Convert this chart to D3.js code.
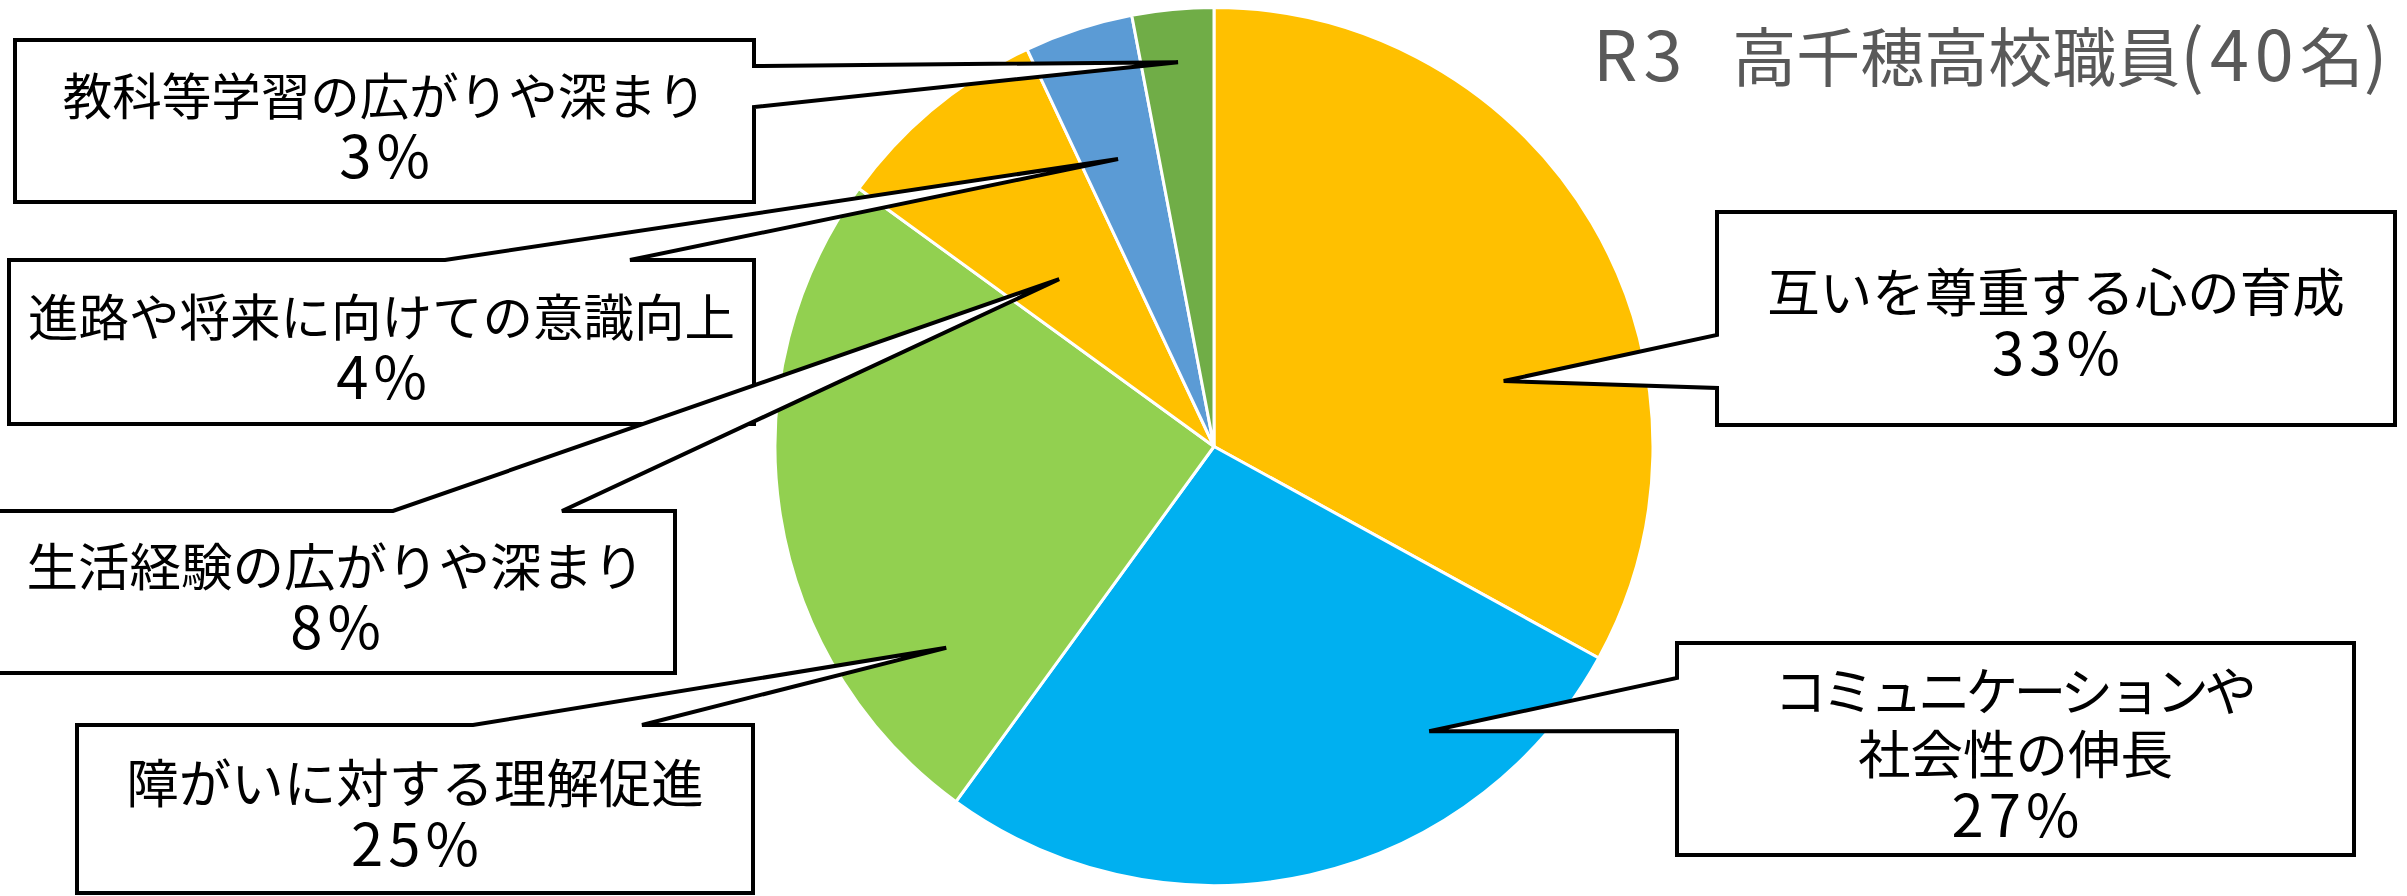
<!DOCTYPE html>
<html>
<head>
<meta charset="utf-8">
<script src="https://cdn.jsdelivr.net/npm/d3@7"></script>
<style>
  html, body { margin: 0; padding: 0; background: #ffffff; }
  svg { display: block; }
</style>
</head>
<body>
<svg id="chart" width="2407" height="896"></svg>
<script>
// ---- data ----
const categories = [
  "互いを尊重する心の育成",
  "コミュニケーションや社会性の伸長",
  "障がいに対する理解促進",
  "生活経験の広がりや深まり",
  "進路や将来に向けての意識向上",
  "教科等学習の広がりや深まり"
];
const shares = [33, 27, 25, 8, 4, 3];          // percent of staff answers
const sliceColors = ["#FFC000", "#00B0F0", "#92D050", "#FFC000", "#5B9BD5", "#70AD47"];
const labelBreaks = { "コミュニケーションや社会性の伸長": ["コミュニケーションや", "社会性の伸長"] };
const chartTitle = "R3　高千穂高校職員(40名)";

// ---- layout ----
const center = [1214, 446.5];
const radius = 439;

// callout boxes: [x0, y0, x1, y1], the side the pointer leaves from,
// the two pointer base offsets on that side, the pointer tip in pie polar
// coordinates, and the label font size used in that box
const callouts = [
  { cat: 5, box: [15, 40, 754, 202],     side: "right", base: [66, 107],  tip: { deg: 354.65, r: 386 }, size: 49.5 },
  { cat: 4, box: [9, 260, 754, 424],     side: "top",   base: [445, 630], tip: { deg: 341.54, r: 303 }, size: 50.5 },
  { cat: 3, box: [-4, 511, 675, 673],    side: "top",   base: [393, 562], tip: { deg: 317.22, r: 228 }, size: 51.5 },
  { cat: 2, box: [77, 725, 753, 893],    side: "top",   base: [473, 642], tip: { deg: 233.06, r: 335 }, size: 52.5 },
  { cat: 0, box: [1717, 212, 2395, 425], side: "left",  base: [335, 388], tip: { deg: 77.27, r: 297 },  size: 52.5 },
  { cat: 1, box: [1677, 643, 2354, 855], side: "left",  base: [678, 731], tip: { deg: 142.92, r: 357 }, size: 52.5, kanaSpacing: -4.6 }
];
const PCT_SIZE = 58, PCT_SPACING = 5, LINE_GAP = 63;

const FONT = "'Noto Sans CJK JP', 'Noto Sans', sans-serif";
const svg = d3.select("#chart");

// ---- pie ----
const pie = d3.pie().sort(null).value(d => d)(shares);
const arc = d3.arc().innerRadius(0).outerRadius(radius);

svg.append("g")
  .attr("transform", `translate(${center[0]},${center[1]})`)
  .selectAll("path")
  .data(pie)
  .join("path")
  .attr("d", arc)
  .attr("fill", (d, i) => sliceColors[i])
  .attr("stroke", "#ffffff")
  .attr("stroke-width", 3)
  .attr("stroke-linejoin", "round");

// ---- callouts ----
function calloutPoints(c) {
  const [x0, y0, x1, y1] = c.box;
  const p = d3.pointRadial(c.tip.deg * Math.PI / 180, c.tip.r);
  const tip = [center[0] + p[0], center[1] + p[1]];
  const [b0, b1] = c.base;
  if (c.side === "top") {
    return [[x0, y0], [b0, y0], tip, [b1, y0], [x1, y0], [x1, y1], [x0, y1]];
  }
  if (c.side === "right") {
    return [[x0, y0], [x1, y0], [x1, b0], tip, [x1, b1], [x1, y1], [x0, y1]];
  }
  return [[x0, y0], [x1, y0], [x1, y1], [x0, y1], [x0, b1], tip, [x0, b0]];
}

const line = d3.line().curve(d3.curveLinearClosed);

callouts.forEach(c => {
  const g = svg.append("g");
  g.append("path")
    .attr("d", line(calloutPoints(c)))
    .attr("fill", "#ffffff")
    .attr("stroke", "#000000")
    .attr("stroke-width", 4)
    .attr("stroke-linejoin", "miter")
    .attr("stroke-miterlimit", 4);

  const name = categories[c.cat];
  const parts = labelBreaks[name] || [name];
  const lines = parts.map((t, i) => ({
    t, size: c.size, ls: (i === 0 && c.kanaSpacing) ? c.kanaSpacing : 0
  }));
  lines.push({ t: shares[c.cat] + "%", size: PCT_SIZE, ls: PCT_SPACING });

  const cx = (c.box[0] + c.box[2]) / 2;
  const cy = (c.box[1] + c.box[3]) / 2;
  const n = lines.length;
  g.append("text")
    .attr("text-anchor", "middle")
    .attr("font-family", FONT)
    .attr("fill", "#000000")
    .selectAll("tspan")
    .data(lines)
    .join("tspan")
    .attr("x", d => cx + d.ls / 2)
    .attr("y", (d, i) => cy + (i - (n - 1) / 2) * LINE_GAP + 25)
    .attr("font-size", d => d.size)
    .attr("letter-spacing", d => d.ls)
    .text(d => d.t);
});

// ---- title ----
// ideographic space, CJK runs and Latin runs are sized separately
const titleRuns = chartTitle.match(/\u3000|[\u3040-\u9fff]+|[^\u3000-\u9fff]+/g).map(t => {
  if (t === "\u3000") return { t, size: 44, ls: 0 };
  if (/[\u3040-\u9fff]/.test(t)) return { t, size: 64, ls: 0 };
  return { t, size: 70, ls: 6 };
});

svg.append("text")
  .attr("x", 1593)
  .attr("y", 81)
  .attr("font-family", FONT)
  .attr("fill", "#595959")
  .selectAll("tspan")
  .data(titleRuns)
  .join("tspan")
  .attr("font-size", d => d.size)
  .attr("letter-spacing", d => d.ls)
  .text(d => d.t);
</script>
</body>
</html>
